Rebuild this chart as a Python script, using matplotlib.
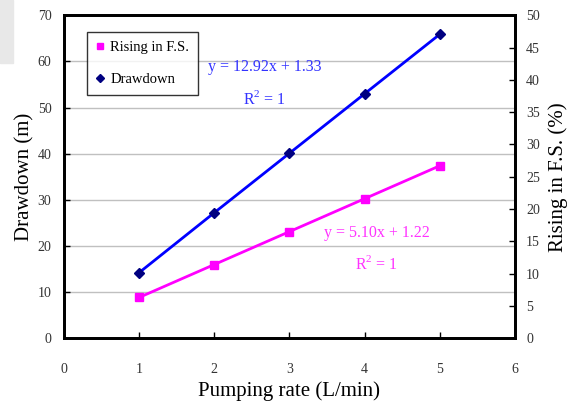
import numpy as np
import matplotlib.pyplot as plt
from matplotlib.lines import Line2D
from matplotlib.patches import Rectangle

plt.rcParams['font.family'] = ['Liberation Serif', 'DejaVu Serif']
plt.rcParams['mathtext.fontset'] = 'custom'
plt.rcParams['mathtext.rm'] = 'Liberation Serif'

rate = np.array([1, 2, 3, 4, 5])
drawdown = np.array([14.2, 27.2, 40.1, 53.0, 65.9])
rising = np.array([6.3, 11.4, 16.5, 21.6, 26.7])

fig = plt.figure(figsize=(5.71, 4.03), dpi=100)
fig.patches.append(Rectangle((0, 1 - 63 / 403), 13 / 571, 63 / 403,
                             transform=fig.transFigure, color='#e8e8e8', zorder=0))

ax = fig.add_axes([0.112, 0.161, 0.790, 0.801])
ax2 = ax.twinx()

ax.plot(rate, drawdown, color='#0000ff', lw=2, marker='D', ms=5,
        mfc='#000080', mec='#000080', zorder=3)
ax2.plot(rate, rising, color='#ff00ff', lw=2, marker='s', ms=5.5,
         mfc='#ff00ff', mec='#ff00ff', zorder=3)

ax.set_xlim(0, 6)
ax.set_ylim(0, 70)
ax2.set_ylim(0, 50)
ax.set_xticks(range(0, 7))
ax.set_yticks(range(0, 80, 10))
ax2.set_yticks(range(0, 55, 5))

ax.yaxis.grid(True, color='#c0c0c0', lw=1)
ax.set_axisbelow(True)

for a in (ax, ax2):
    for side in a.spines:
        a.spines[side].set_linewidth(2)
        a.spines[side].set_color('black')
ax.tick_params(axis='x', direction='in', length=4, width=1, pad=18,
               labelsize=10, labelcolor='#333333')
ax.tick_params(axis='y', direction='in', length=4, width=1, pad=9,
               labelsize=10, labelcolor='#333333')
ax2.tick_params(axis='y', direction='in', length=4, width=1, pad=8,
                labelsize=10, labelcolor='#333333')

ax.set_xlabel('Pumping rate (L/min)', fontsize=15, labelpad=4)
ax.set_ylabel('Drawdown (m)', fontsize=15, labelpad=2)
ax2.set_ylabel('Rising in F.S. (%)', fontsize=15, labelpad=6)

eq_style = dict(fontsize=11.5, ha='center', va='center')
ax.text(2.67, 58.9, 'y = 12.92x + 1.33', color='#3333ff', **eq_style)
ax.text(2.67, 51.9, r'R$^{\mathrm{2}}$ = 1', color='#3333ff', **eq_style)
ax.text(4.16, 22.8, 'y = 5.10x + 1.22', color='#ff33ff', **eq_style)
ax.text(4.16, 16.1, r'R$^{\mathrm{2}}$ = 1', color='#ff33ff', **eq_style)

handles = [
    Line2D([], [], ls='none', marker='s', ms=5, color='#ff00ff'),
    Line2D([], [], ls='none', marker='D', ms=4.5, color='#000080'),
]
leg = ax2.legend(handles, ['Rising in F.S.', 'Drawdown'], loc='upper left',
                 bbox_to_anchor=(0.051, 0.947), borderaxespad=0, fontsize=10.5,
                 frameon=True, fancybox=False, edgecolor='black',
                 handlelength=0.6, handletextpad=0.4, borderpad=0.6,
                 labelspacing=1.25)
leg.get_frame().set_linewidth(1)

fig.savefig('out.png', dpi=100)
